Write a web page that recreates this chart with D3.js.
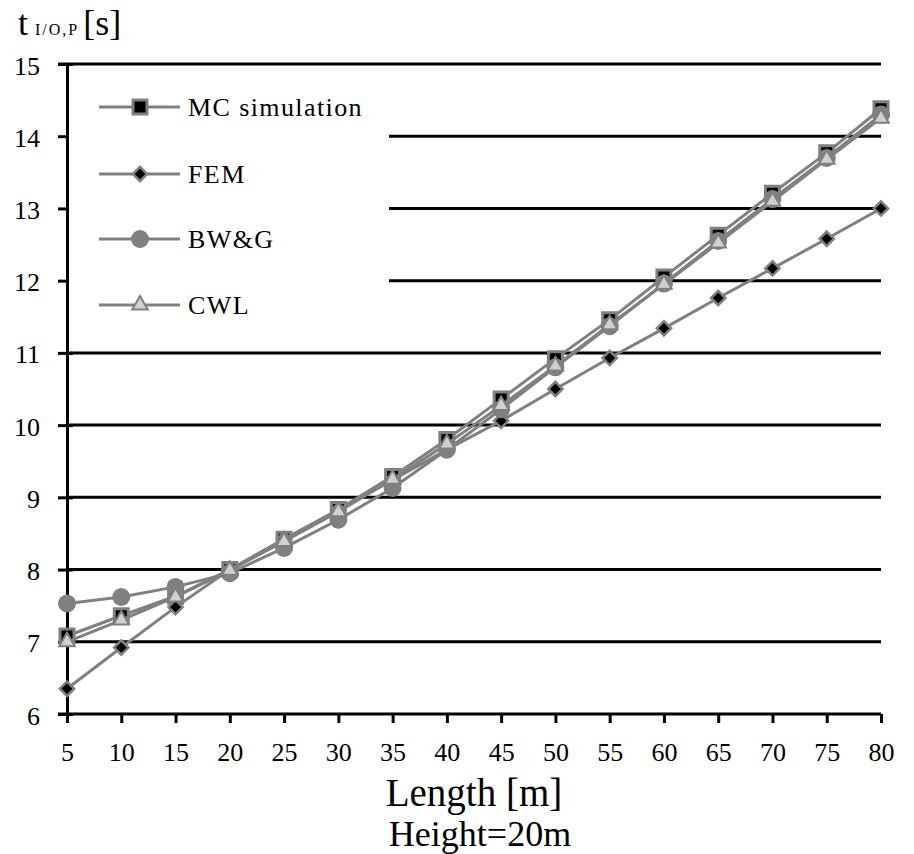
<!DOCTYPE html>
<html>
<head>
<meta charset="utf-8">
<script src="https://cdn.jsdelivr.net/npm/d3@7"></script>
<style>
  body { margin: 0; background: #fff; }
</style>
</head>
<body>
<div class="viz"></div>
<script>
// chart data
var lengths = [5, 10, 15, 20, 25, 30, 35, 40, 45, 50, 55, 60, 65, 70, 75, 80];
var mc  = [7.08, 7.36, 7.63, 8.0, 8.42, 8.83, 9.29, 9.8, 10.36, 10.92, 11.46, 12.05, 12.63, 13.21, 13.77, 14.38];
var fem = [6.35, 6.92, 7.48, 8.0, 8.42, 8.82, 9.24, 9.66, 10.06, 10.5, 10.93, 11.34, 11.76, 12.17, 12.58, 13.0];
var bwg = [7.53, 7.62, 7.76, 7.95, 8.3, 8.69, 9.13, 9.66, 10.22, 10.8, 11.37, 11.96, 12.55, 13.13, 13.7, 14.3];
var cwl = [7.0, 7.3, 7.62, 7.99, 8.39, 8.8, 9.25, 9.74, 10.27, 10.82, 11.39, 11.95, 12.52, 13.1, 13.68, 14.25];
var series_names = ["MC simulation", "FEM", "BW&G", "CWL"];
var y_ticks = [6, 7, 8, 9, 10, 11, 12, 13, 14, 15];

var width = 914, height = 854;
var margin = {top: 64, right: 33, bottom: 140, left: 67};
var gray = "#808080";
var font = "Liberation Serif";

var graph = d3.select('.viz')
    .append('svg')
    .attr('width', width)
    .attr('height', height)
    .attr('font-family', font);

var scale_x = d3.scaleLinear()
    .domain([5, 80])
    .range([margin.left, width - margin.right]);
var scale_y = d3.scaleLinear()
    .domain([6, 15])
    .range([height - margin.bottom, margin.top]);

// gridlines
graph.append('g')
    .selectAll('line')
    .data(y_ticks.filter(d => d > 6))
    .enter()
    .append('line')
    .attr('x1', d => d == 15 ? margin.left - 9 : margin.left)
    .attr('x2', width - margin.right)
    .attr('y1', d => scale_y(d))
    .attr('y2', d => scale_y(d))
    .attr('stroke', '#000')
    .attr('stroke-width', 3);

// y axis
var y_axis = graph.append('g')
    .attr('transform', `translate(${margin.left}, 0)`)
    .call(d3.axisLeft(scale_y).tickValues(y_ticks).tickSize(9).tickSizeOuter(0).tickPadding(18));
y_axis.attr('font-family', font);
y_axis.select('.domain').attr('stroke-width', 3);
y_axis.selectAll('.tick line').attr('x2', 6).attr('x1', -9).attr('stroke-width', 3);
y_axis.selectAll('text')
    .attr('font-size', '26px')
    .attr('font-family', font)
    .attr('dy', 10)
    .attr('fill', '#000');

// x axis
var x_axis = graph.append('g')
    .attr('transform', `translate(0, ${height - margin.bottom})`)
    .call(d3.axisBottom(scale_x).tickValues(lengths).tickSize(9).tickSizeOuter(0));
x_axis.attr('font-family', font);
x_axis.select('.domain').attr('stroke-width', 3).attr('d', `M${margin.left - 9},0H${width - margin.right}`);
x_axis.selectAll('.tick line').attr('stroke-width', 3);
x_axis.selectAll('text')
    .attr('font-size', '26px')
    .attr('font-family', font)
    .attr('y', 47)
    .attr('dy', 0)
    .attr('fill', '#000');

// legend background covers the gridlines
graph.append('rect')
    .attr('x', margin.left + 2)
    .attr('y', 80)
    .attr('width', 320)
    .attr('height', 255)
    .attr('fill', '#fff');

// markers
var symbols = [
    {type: d3.symbolSquare, size: 196, fill: '#000', stroke: gray, sw: 3},
    {type: d3.symbolDiamond2, size: 130, fill: '#000', stroke: gray, sw: 2.5},
    {type: d3.symbolCircle, size: 254, fill: gray, stroke: gray, sw: 0},
    {type: d3.symbolTriangle, size: 105, fill: '#d0d0d0', stroke: gray, sw: 2}
];
var all_series = [mc, fem, bwg, cwl];

function draw_marker(g, i, x, y) {
    var s = symbols[i];
    g.append('path')
        .attr('d', d3.symbol().type(s.type).size(s.size)())
        .attr('transform', `translate(${x}, ${y})`)
        .attr('fill', s.fill)
        .attr('stroke', s.stroke)
        .attr('stroke-width', s.sw);
}

var line = d3.line()
    .x((d, i) => scale_x(lengths[i]))
    .y(d => scale_y(d));

all_series.forEach((values, k) => {
    var g = graph.append('g');
    g.append('path')
        .attr('d', line(values))
        .attr('fill', 'none')
        .attr('stroke', gray)
        .attr('stroke-width', 3);
    values.forEach((v, i) => draw_marker(g, k, scale_x(lengths[i]), scale_y(v)));
});

// legend
var legend_y = [107, 174, 239, 305];
series_names.forEach((name, k) => {
    var g = graph.append('g');
    g.append('line')
        .attr('x1', 99).attr('x2', 180)
        .attr('y1', legend_y[k]).attr('y2', legend_y[k])
        .attr('stroke', gray)
        .attr('stroke-width', 3);
    draw_marker(g, k, 140, legend_y[k]);
    g.append('text')
        .attr('x', 188)
        .attr('y', legend_y[k] + 9)
        .attr('font-size', '26px')
        .attr('font-family', font)
        .attr('letter-spacing', '1.4px')
        .text(name);
});

// titles
var mid_x = (margin.left + width - margin.right) / 2;
graph.append('text')
    .attr('x', mid_x)
    .attr('y', 806)
    .attr('text-anchor', 'middle')
    .attr('font-size', '39px')
    .attr('font-family', font)
    .text('Length [m]');
graph.append('text')
    .attr('x', mid_x + 6)
    .attr('y', 846)
    .attr('text-anchor', 'middle')
    .attr('font-size', '36px')
    .attr('font-family', font)
    .text('Height=20m');

var y_title = graph.append('text')
    .attr('x', 18)
    .attr('y', 35)
    .attr('font-size', '36px')
    .attr('font-family', font);
y_title.append('tspan').text('t');
y_title.append('tspan').attr('dx', 7).attr('font-size', '16px').attr('letter-spacing', '2px').text('I/O,P');
y_title.append('tspan').attr('dx', 4).text('[s]');
</script>
</body>
</html>
